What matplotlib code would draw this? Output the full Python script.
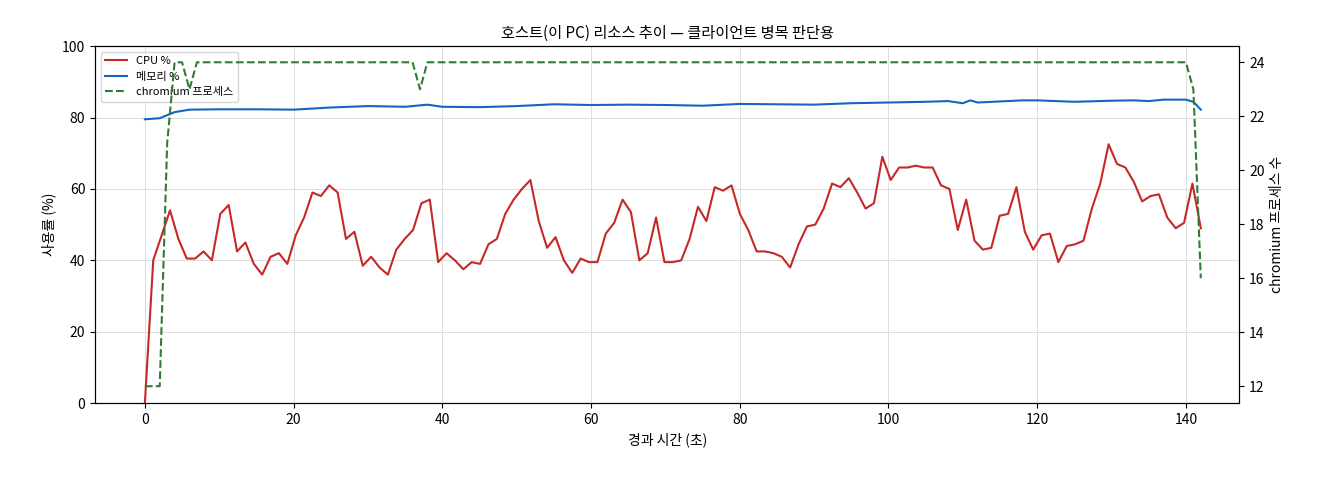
import numpy as np
import matplotlib
matplotlib.use("Agg")
import matplotlib.pyplot as plt

plt.rcParams['font.family'] = ['Noto Sans CJK KR', 'DejaVu Sans']
plt.rcParams['axes.unicode_minus'] = False

cpu = [0, 40, 47, 54, 46, 40.5, 40.5, 42.5, 40, 53, 55.5, 42.5, 45, 39, 36, 41, 42, 39, 47, 52,
       59, 58, 61, 59, 46, 48, 38.5, 41, 38, 36, 43, 46, 48.5, 56, 57, 39.5, 42, 40, 37.5, 39.5,
       39, 44.5, 46, 53, 57, 60, 62.5, 51, 43.5, 46.5, 40, 36.5, 40.5, 39.5, 39.5, 47.5, 50.5, 57, 53.5, 40,
       42, 52, 39.5, 39.5, 40, 46, 55, 51, 60.5, 59.5, 61, 53, 48.5, 42.5, 42.5, 42, 41, 38, 44.5, 49.5,
       50, 54.5, 61.5, 60.5, 63, 59, 54.5, 56, 69, 62.5, 66, 66, 66.5, 66, 66, 61, 60, 48.5, 57, 45.5,
       43, 43.5, 52.5, 53, 60.5, 48, 43, 47, 47.5, 39.5, 44, 44.5, 45.5, 54.5, 61.5, 72.5, 67, 66, 62, 56.5,
       58, 58.5, 52, 49, 50.5, 61.5, 49]
cpu_t = np.linspace(0, 142, len(cpu))

mem_t = [0, 2, 4, 6, 10, 15, 20, 25, 30, 35, 38, 40, 45, 50, 55, 60, 65, 70, 75, 80, 85, 90, 95, 100,
         105, 108, 110, 111, 112, 115, 118, 120, 125, 130, 133, 135, 137, 140, 141, 142]
mem = [79.5, 79.8, 81.5, 82.2, 82.3, 82.3, 82.2, 82.8, 83.2, 83.0, 83.6, 83.0, 82.9, 83.2, 83.7, 83.5, 83.6,
       83.5, 83.3, 83.8, 83.7, 83.6, 84.0, 84.2, 84.4, 84.6, 84.0, 84.8, 84.2, 84.5, 84.8, 84.8, 84.4, 84.7,
       84.8, 84.6, 85.0, 85.0, 84.4, 82.2]

proc_t = [0, 1, 2, 3, 4, 5, 6, 7, 8, 36, 37, 38, 140, 141, 142]
proc = [12, 12, 12, 21, 24, 24, 23, 24, 24, 24, 23, 24, 24, 23, 16]

fig = plt.figure(figsize=(13.2, 4.8), dpi=100)
ax = fig.add_axes([0.072, 0.16, 0.867, 0.744])
l1, = ax.plot(cpu_t, cpu, color='#c62828', lw=1.5, label='CPU %')
l2, = ax.plot(mem_t, mem, color='#1565c0', lw=1.5, label='메모리 %')
ax.set_ylim(0, 100)
ax.set_xlim(-6.7, 147.2)
ax.grid(True, color='#dddddd', lw=0.7)
ax.set_xlabel('경과 시간 (초)', fontsize=10)
ax.set_ylabel('사용률 (%)', fontsize=10)
ax.set_title('호스트(이 PC) 리소스 추이 — 클라이언트 병목 판단용', fontsize=11)
ax.tick_params(labelsize=10)
ax2 = ax.twinx()
l3, = ax2.plot(proc_t, proc, color='#2e7d32', lw=1.5, ls='--', label='chromium 프로세스')
ax2.set_ylim(11.37, 24.6)
ax2.set_ylabel('chromium 프로세스 수', fontsize=10)
ax2.tick_params(labelsize=10)
ax.legend(handles=[l1, l2, l3], loc='upper left', fontsize=8, framealpha=0.8)
fig.savefig('out.png', dpi=100)
